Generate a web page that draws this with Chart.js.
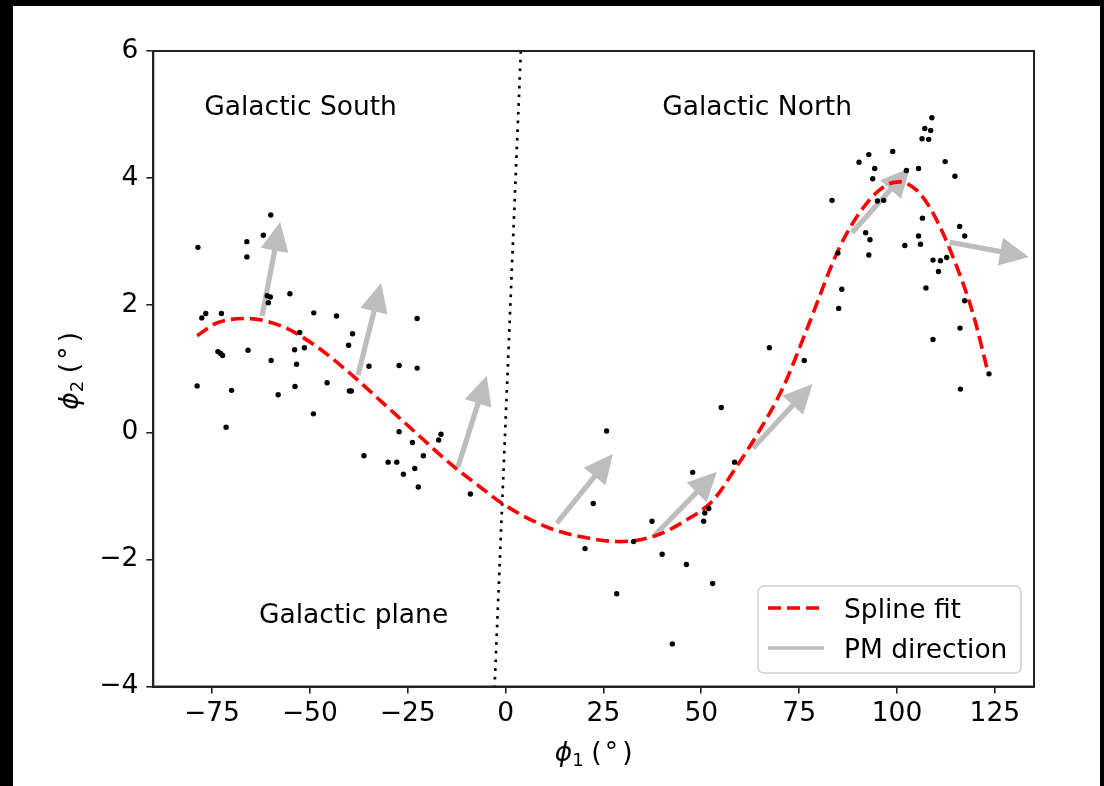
<!DOCTYPE html>
<html><head><meta charset="utf-8">
<script src="https://cdn.jsdelivr.net/npm/chart.js@4"></script>
<style>
html,body{margin:0;padding:0;background:#000;width:1104px;height:786px;overflow:hidden;}
#wrap{position:absolute;left:13px;top:6px;width:1087px;height:780px;background:#fff;}
canvas{display:block;}
</style></head><body>
<div id="wrap"><canvas id="c" width="1087" height="780"></canvas></div>
<script>
// ---- data ----
const starX = [-60.0,-78.6,-66.1,-66.1,-61.9,-60.9,-60.1,-60.6,-55.1,-77.6,-76.6,-72.6,-49.0,-43.2,-22.6,-52.6,-39.1,-40.1,-73.5,-72.8,-72.3,-65.8,-53.9,-51.4,-59.9,-53.4,-34.9,-27.2,-22.6,-78.8,-70.0,-58.1,-53.8,-45.6,-39.9,-39.4,-49.1,-71.4,-27.2,-16.5,-17.1,-23.8,-21.0,-36.2,-30.0,-27.8,-23.2,-26.1,-22.3,-9.0,
25.8,55.1,58.5,47.8,22.4,37.4,50.9,51.9,50.6,32.7,20.3,40.0,46.2,52.9,28.4,42.6,67.4,76.3,
108.9,107.1,108.6,106.4,108.1,92.8,98.9,90.3,94.3,112.3,93.8,102.4,105.5,114.8,83.4,95.0,96.6,106.5,116.0,117.3,92.0,93.1,105.5,106.0,102.0,84.9,92.8,109.2,111.1,112.7,110.6,85.9,107.4,85.1,117.3,116.1,109.2,123.5,116.2];
const starY = [3.42,2.91,3.00,2.76,3.10,2.15,2.13,2.04,2.18,1.80,1.87,1.87,1.88,1.83,1.79,1.57,1.55,1.37,1.27,1.24,1.21,1.29,1.30,1.33,1.13,1.07,1.04,1.05,1.01,0.73,0.66,0.59,0.72,0.78,0.65,0.65,0.29,0.08,0.01,-0.03,-0.12,-0.16,-0.37,-0.37,-0.47,-0.47,-0.57,-0.66,-0.86,-0.97,
0.02,0.39,-0.47,-0.63,-1.12,-1.40,-1.27,-1.20,-1.40,-1.72,-1.83,-1.92,-2.08,-2.38,-2.54,-3.33,1.33,1.13,
4.95,4.78,4.75,4.62,4.61,4.37,4.42,4.25,4.15,4.26,3.99,4.12,4.15,4.03,3.65,3.64,3.65,3.37,3.24,3.09,3.14,3.03,3.09,2.96,2.94,2.82,2.79,2.71,2.70,2.75,2.53,2.25,2.27,1.95,2.07,1.64,1.46,0.92,0.68];

const splineX = [-78.8,-73.8,-66.0,-56.8,-48.3,-39.8,-31.3,-22.7,-14.2,-6.5,-0.6,10.5,19.0,29.2,38.6,46.2,53.0,59.0,65.0,71.0,76.9,85.4,92.2,97.3,100.7,105.0,109.2,114.3,119.4,123.3];
const splineY = [1.52,1.72,1.79,1.66,1.35,0.93,0.46,-0.02,-0.49,-0.86,-1.13,-1.49,-1.64,-1.72,-1.62,-1.38,-1.07,-0.54,0.04,0.72,1.61,2.92,3.60,3.89,3.94,3.81,3.45,2.76,1.87,0.93];

const planeX = [3.9, -2.8];
const planeY = [6, -4];

const arrowX0 = [-62.2,-37.7,-12.2,13.1,38.1,63.2,88.5,113.5];
const arrowY0 = [1.83,0.90,-0.55,-1.43,-1.62,-0.25,3.14,2.99];
const arrowX1 = [-57.6,-31.8,-4.8,27.4,54.0,78.4,103.3,133.7];
const arrowY1 = [3.31,2.35,0.89,-0.34,-0.62,0.76,4.16,2.76];

const xTickValues = [-75,-50,-25,0,25,50,75,100,125];
const yTickValues = [-4,-2,0,2,4,6];

const noteText = ['Galactic South','Galactic North','Galactic plane'];
const noteX = [-77, 40, -63];
const noteY = [5, 5, -3];

const legendLabels = ['Spline fit','PM direction'];

// ---- styling ----
const FONT = '"DejaVu Sans", sans-serif';
const FS = 26.5;
const ARROW_COLOR = '#bdbdbd';
const minus = v => String(v).replace('-', '\u2212');

function drawArrow(ctx, x0, y0, x1, y1) {
  const dx = x1 - x0, dy = y1 - y0, L = Math.hypot(dx, dy);
  const ux = dx / L, uy = dy / L, px = -uy, py = ux;
  const hl = 29, hw = 14, sw = 2.6;
  const bx = x1 - ux * hl, by = y1 - uy * hl;
  ctx.beginPath();
  ctx.moveTo(x0 + px * sw, y0 + py * sw);
  ctx.lineTo(bx + px * sw, by + py * sw);
  ctx.lineTo(bx + px * hw, by + py * hw);
  ctx.lineTo(x1, y1);
  ctx.lineTo(bx - px * hw, by - py * hw);
  ctx.lineTo(bx - px * sw, by - py * sw);
  ctx.lineTo(x0 - px * sw, y0 - py * sw);
  ctx.closePath();
  ctx.fill();
}

const arrowPlugin = {
  id: 'pmArrows',
  beforeDatasetsDraw(chart) {
    const {ctx, scales: {x, y}} = chart;
    ctx.save();
    ctx.fillStyle = ARROW_COLOR;
    for (let i = 0; i < arrowX0.length; i++) {
      drawArrow(ctx, x.getPixelForValue(arrowX0[i]), y.getPixelForValue(arrowY0[i]),
                     x.getPixelForValue(arrowX1[i]), y.getPixelForValue(arrowY1[i]));
    }
    ctx.restore();
  }
};

function drawMathLabel(ctx, sub) {
  ctx.textBaseline = 'alphabetic';
  ctx.textAlign = 'left';
  ctx.fillStyle = '#000';
  ctx.font = 'italic ' + FS + 'px ' + FONT;
  ctx.fillText('\u03d5', -1.5, 0);
  ctx.font = '18px ' + FONT;
  ctx.fillText(sub, 16, 5);
  ctx.font = FS + 'px ' + FONT;
  ctx.fillText('(', 35, 0);
  ctx.fillText('\u00b0', 48.5, 0);
  ctx.fillText(')', 66, 0);
}

const decorPlugin = {
  id: 'decor',
  afterDraw(chart) {
    const {ctx, chartArea: a, scales: {x, y}} = chart;
    ctx.save();
    ctx.font = FS + 'px ' + FONT;
    ctx.fillStyle = '#000';
    ctx.textAlign = 'left';
    ctx.textBaseline = 'alphabetic';
    for (let i = 0; i < noteText.length; i++) {
      ctx.fillText(noteText[i], x.getPixelForValue(noteX[i]), y.getPixelForValue(noteY[i]));
    }
    ctx.strokeStyle = '#222';
    ctx.lineWidth = 2;
    ctx.strokeRect(a.left, a.top, a.right - a.left, a.bottom - a.top);
    // legend
    const L = a.right - 276, R = a.right - 13, T = a.bottom - 100.5, B = a.bottom - 13.5, r = 6;
    ctx.beginPath();
    ctx.moveTo(L + r, T); ctx.lineTo(R - r, T); ctx.arcTo(R, T, R, T + r, r);
    ctx.lineTo(R, B - r); ctx.arcTo(R, B, R - r, B, r);
    ctx.lineTo(L + r, B); ctx.arcTo(L, B, L, B - r, r);
    ctx.lineTo(L, T + r); ctx.arcTo(L, T, L + r, T, r);
    ctx.closePath();
    ctx.fillStyle = 'rgba(255,255,255,0.8)';
    ctx.fill();
    ctx.strokeStyle = '#d0d0d0';
    ctx.lineWidth = 1.5;
    ctx.stroke();
    const sx0 = a.right - 266, sx1 = a.right - 210;
    const y1 = a.bottom - 78.5, y2 = a.bottom - 38.5;
    ctx.lineCap = 'butt';
    ctx.strokeStyle = '#ff0000';
    ctx.lineWidth = 3.5;
    ctx.setLineDash([13, 6]);
    ctx.beginPath(); ctx.moveTo(sx0, y1); ctx.lineTo(sx1, y1); ctx.stroke();
    ctx.setLineDash([]);
    ctx.strokeStyle = ARROW_COLOR;
    ctx.beginPath(); ctx.moveTo(sx0, y2); ctx.lineTo(sx1, y2); ctx.stroke();
    ctx.fillStyle = '#000';
    ctx.font = FS + 'px ' + FONT;
    ctx.fillText(legendLabels[0], a.right - 190, y1 + 9.5);
    ctx.fillText(legendLabels[1], a.right - 190, y2 + 9.5);
    // axis titles
    ctx.save();
    ctx.translate((a.left + a.right) / 2 - 37.5, 754.5);
    drawMathLabel(ctx, '1');
    ctx.restore();
    ctx.save();
    ctx.translate(65, (a.top + a.bottom) / 2 + 2 + 37.5);
    ctx.rotate(-Math.PI / 2);
    drawMathLabel(ctx, '2');
    ctx.restore();
    ctx.restore();
  }
};

new Chart(document.getElementById('c'), {
  type: 'scatter',
  data: {
    datasets: [
      {
        label: 'stars',
        data: starX.map((v, i) => ({x: v, y: starY[i]})),
        backgroundColor: '#000', borderColor: '#000',
        pointRadius: 2.7, pointHoverRadius: 2.7, borderWidth: 0
      },
      {
        label: legendLabels[0],
        data: splineX.map((v, i) => ({x: v, y: splineY[i]})),
        showLine: true, pointRadius: 0, borderColor: '#ff0000', borderWidth: 3.6,
        borderDash: [13, 6], cubicInterpolationMode: 'monotone', fill: false
      },
      {
        label: 'plane',
        data: planeX.map((v, i) => ({x: v, y: planeY[i]})),
        showLine: true, pointRadius: 0, borderColor: '#000', borderWidth: 2.7,
        borderDash: [2.7, 6], fill: false
      }
    ]
  },
  options: {
    responsive: false,
    animation: false,
    events: [],
    layout: {padding: {left: 0, top: 45, right: 66, bottom: 0}},
    plugins: {legend: {display: false}, tooltip: {enabled: false}},
    scales: {
      x: {
        type: 'linear', min: -90, max: 135,
        afterBuildTicks: s => { s.ticks = xTickValues.map(v => ({value: v})); },
        afterFit: s => { s.height = 99.5; },
        grid: {drawOnChartArea: false, drawTicks: true, tickLength: 7, color: '#222', lineWidth: 1.6},
        border: {display: true, color: '#222', width: 2},
        ticks: {color: '#000', font: {family: FONT, size: FS}, padding: 5, maxRotation: 0,
                callback: v => minus(v)}
      },
      y: {
        type: 'linear', min: -4, max: 6,
        afterBuildTicks: s => { s.ticks = yTickValues.map(v => ({value: v})); },
        afterFit: s => { s.width = 140.3; },
        grid: {drawOnChartArea: false, drawTicks: true, tickLength: 7, color: '#222', lineWidth: 1.6},
        border: {display: true, color: '#222', width: 2},
        ticks: {color: '#000', font: {family: FONT, size: FS}, padding: 8,
                callback: v => minus(v)}
      }
    }
  },
  plugins: [arrowPlugin, decorPlugin]
});
</script>
</body></html>
